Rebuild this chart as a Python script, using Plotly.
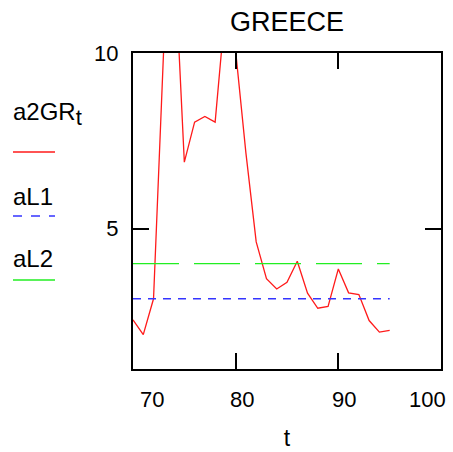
import plotly.graph_objects as go

# ---------------- data ----------------
years = list(range(70, 96))
a2GR = [2.40, 1.98, 3.00, 10.2, 13.0, 6.89, 8.03, 8.19, 8.03, 11.3, 10.05, 7.15, 4.62,
        3.57, 3.28, 3.47, 4.07, 3.16, 2.73, 2.78, 3.85, 3.17, 3.12, 2.38, 2.05, 2.10]
aL1_level = 3.0
aL2_level = 4.0
aL1 = [aL1_level for _ in years]
aL2 = [aL2_level for _ in years]

xtick_vals = [70, 80, 90, 100]
xtick_text = ["70", "80", "90", "100"]
ytick_vals = [5, 10]
ytick_text = ["5", "10"]

legend_names = ["a2GR<sub><span style='font-size:22px'>t</span></sub>", "aL1", "aL2"]

# ---------------- style ----------------
W, H = 453, 452
L, R, T, B = 133, 441, 53, 369
FONT = "Liberation Sans, Arial, Helvetica, sans-serif"
RED, BLUE, GREEN = "#ff1a1a", "#3535ff", "#22ee22"
BLUE_DASH = "8px,7px"
GREEN_DASH = "46px,15px"


def px_x(p):
    return (p - L) / (R - L)


def px_y(p):
    return (B - p) / (B - T)


fig = go.Figure()
fig.add_trace(go.Scatter(x=years, y=a2GR, mode="lines", line=dict(color=RED, width=1.3),
                         name="a2GR", showlegend=False, hoverinfo="skip"))
fig.add_trace(go.Scatter(x=years, y=aL1, mode="lines",
                         line=dict(color=BLUE, width=1.4, dash=BLUE_DASH),
                         name="aL1", showlegend=False, hoverinfo="skip"))
fig.add_trace(go.Scatter(x=years, y=aL2, mode="lines",
                         line=dict(color=GREEN, width=1.4, dash=GREEN_DASH),
                         name="aL2", showlegend=False, hoverinfo="skip"))

axis_common = dict(showgrid=False, zeroline=False, showline=True, linecolor="black",
                   linewidth=2, ticks="inside", ticklen=16, tickwidth=2,
                   tickcolor="black", mirror="ticks", automargin=False)

fig.update_layout(
    width=W, height=H, autosize=False,
    margin=dict(l=L, r=W - R, t=T, b=H - B, pad=0),
    paper_bgcolor="white", plot_bgcolor="white",
    font=dict(family=FONT, color="black", size=22),
    title=dict(text="GREECE", x=0.5, xref="paper", xanchor="center",
               y=1 - 21.5 / H, yref="container", yanchor="middle",
               font=dict(size=27, family=FONT, color="black")),
    xaxis=dict(range=[70, 100], tickvals=xtick_vals, showticklabels=False,
               title=dict(text="t", font=dict(size=23), standoff=60), **axis_common),
    yaxis=dict(range=[1, 10], tickvals=ytick_vals, ticktext=ytick_text,
               tickfont=dict(size=22), ticklabelstandoff=8, **axis_common),
)

# x tick labels (Mathcad-style offsets)
label_shifts = [19, 6, 6, -14]
for v, t, s in zip(xtick_vals, xtick_text, label_shifts):
    fig.add_annotation(x=v, xref="x", y=0, yref="paper", yanchor="top", yshift=-16,
                       xshift=s, text=t, showarrow=False, font=dict(size=22))

# custom legend: label above swatch
legend_text_y = [114, 196, 258]
legend_line_y = [152, 216, 280]
legend_colors = [RED, BLUE, GREEN]
legend_dashes = ["solid", "dash", "solid"]
for name, ty, ly, c, d in zip(legend_names, legend_text_y, legend_line_y,
                              legend_colors, legend_dashes):
    fig.add_annotation(x=px_x(11), xref="paper", y=px_y(ty), yref="paper",
                       xanchor="left", yanchor="middle", text=name, showarrow=False,
                       font=dict(size=24))
    fig.add_shape(type="line", xref="paper", yref="paper",
                  x0=px_x(13), x1=px_x(55), y0=px_y(ly), y1=px_y(ly),
                  line=dict(color=c, width=1.3, dash=d))

fig.write_html("out.html", config={"displayModeBar": False},
               post_script="document.body.style.margin='0';")
